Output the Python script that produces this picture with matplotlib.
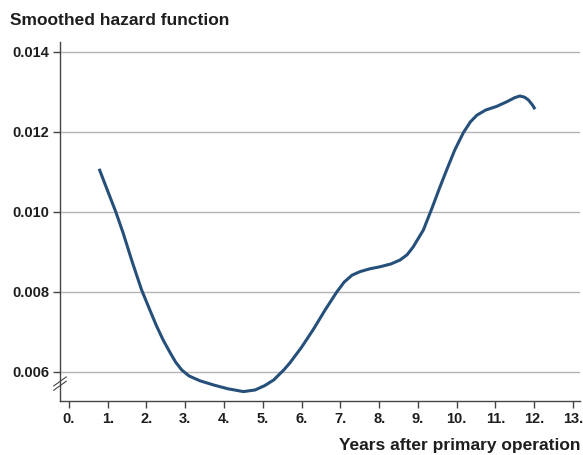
import numpy as np
import matplotlib.pyplot as plt

plt.rcParams['font.family'] = ['Liberation Sans', 'DejaVu Sans']

# smoothed hazard
years = [0.78, 0.95, 1.21, 1.40, 1.63, 1.875, 2.10, 2.26, 2.43, 2.60, 2.75, 2.91,
         3.10, 3.38, 3.75, 4.10, 4.50, 4.80, 5.05, 5.28, 5.55, 5.70, 6.00, 6.30,
         6.60, 6.90, 7.10, 7.30, 7.51, 7.76, 8.02, 8.30, 8.54, 8.72, 8.88, 9.14,
         9.36, 9.55, 9.74, 9.95, 10.17, 10.35, 10.52, 10.75, 11.03, 11.30, 11.50,
         11.63, 11.75, 11.85, 11.95, 12.02]
hazard = [0.01108, 0.01065, 0.01000, 0.00947, 0.00876, 0.00805, 0.00752, 0.00715,
          0.00680, 0.00650, 0.00625, 0.00605, 0.00590, 0.00578, 0.00567, 0.00558,
          0.00551, 0.00555, 0.00566, 0.00580, 0.00606, 0.00623, 0.00662, 0.00706,
          0.00754, 0.00799, 0.00825, 0.00842, 0.00851, 0.00858, 0.00863, 0.00870,
          0.00880, 0.00893, 0.00913, 0.00955, 0.01009, 0.01058, 0.01105, 0.01155,
          0.01198, 0.01225, 0.01242, 0.01255, 0.01264, 0.01276, 0.01286, 0.01290,
          0.01287, 0.01280, 0.01268, 0.01257]

xticks = list(range(0, 14))
xtick_labels = [f"{t}." for t in xticks]
yticks = [0.006, 0.008, 0.010, 0.012, 0.014]
ytick_labels = [f"{t:.3f}" for t in yticks]

fig = plt.figure(figsize=(5.83, 4.55), dpi=100)
ax = fig.add_axes([0.1029, 0.1187, 0.892, 0.789])

ax.plot(years, hazard, color='#264f7a', lw=2.2, solid_joinstyle='round',
        solid_capstyle='butt')

ax.set_xlim(-0.23, 13.18)
ax.set_ylim(0.005275, 0.01425)
ax.set_xticks(xticks)
ax.set_xticklabels(xtick_labels)
ax.set_yticks(yticks)
ax.set_yticklabels(ytick_labels)
for lab in ax.get_xticklabels() + ax.get_yticklabels():
    lab.set_fontweight('bold')
    lab.set_fontsize(10.5)
    lab.set_color('#1e1e1e')

ax.grid(axis='y', color='#b4b4b4', lw=1.0)
ax.set_axisbelow(True)
for s in ['top', 'right']:
    ax.spines[s].set_visible(False)
for s in ['left', 'bottom']:
    ax.spines[s].set_color('#444444')
    ax.spines[s].set_linewidth(1.0)
ax.tick_params(axis='both', direction='out', length=5, width=1.0, color='#444444', pad=3)

# axis break marks on the left spine
for dy in (0.0, 0.012):
    ax.plot([-0.012, 0.012], [0.03 + dy, 0.055 + dy], transform=ax.transAxes,
            color='#444444', lw=0.8, clip_on=False)

fig.text(0.017, 0.955, 'Smoothed hazard function', fontsize=12.5, fontweight='bold',
         color='#1e1e1e', ha='left', va='center')
fig.text(0.996, 0.02, 'Years after primary operation', fontsize=12.5, fontweight='bold',
         color='#1e1e1e', ha='right', va='center')

fig.savefig('out.png', dpi=100)
